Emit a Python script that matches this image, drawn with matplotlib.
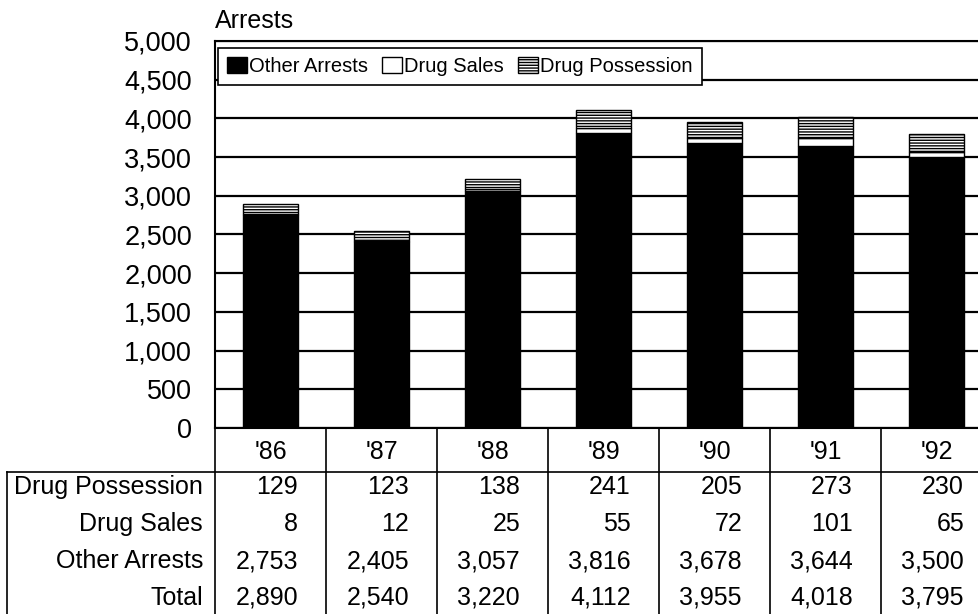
import numpy as np
import matplotlib.pyplot as plt

plt.rcParams['font.family'] = ['Liberation Sans', 'DejaVu Sans']
plt.rcParams['hatch.linewidth'] = 1.0

# Dados do gráfico
anos = ["'86", "'87", "'88", "'89", "'90", "'91", "'92"]
drug_possession = [129, 123, 138, 241, 205, 273, 230]
drug_sales = [8, 12, 25, 55, 72, 101, 65]
other_arrests = [2753, 2405, 3057, 3816, 3678, 3644, 3500]
total = [2890, 2540, 3220, 4112, 3955, 4018, 3795]
yticks = [0, 500, 1000, 1500, 2000, 2500, 3000, 3500, 4000, 4500, 5000]

W, H = 979, 614
fig = plt.figure(figsize=(W / 100, H / 100), dpi=100)

# Eixo principal (barras empilhadas)
ax = fig.add_axes([215 / W, (H - 428) / H, 777 / W, 387 / H])
x = np.arange(len(anos))
w = 0.49
ax.bar(x, other_arrests, width=w, color='black', edgecolor='black',
       linewidth=1, label='Other Arrests', zorder=3)
ax.bar(x, drug_sales, width=w, bottom=other_arrests, color='white',
       edgecolor='black', linewidth=1, label='Drug Sales', zorder=3)
base = np.array(other_arrests) + np.array(drug_sales)
ax.bar(x, drug_possession, width=w, bottom=base, color='white',
       edgecolor='black', hatch='------', linewidth=1,
       label='Drug Possession', zorder=3)

ax.set_xlim(-0.5, len(anos) - 0.5)
ax.set_ylim(0, 5000)
ax.set_yticks(yticks)
ax.set_yticklabels([f'{v:,}' for v in yticks], fontsize=19.5)
ax.set_xticks([])
ax.tick_params(axis='y', length=0, pad=16.5)
ax.yaxis.grid(True, color='black', linewidth=1.6, zorder=1)
ax.set_axisbelow(True)
for s in ax.spines.values():
    s.set_linewidth(1.5)

ax.text(0, 1.034, 'Arrests', transform=ax.transAxes, fontsize=18,
        ha='left', va='baseline')

leg = ax.legend(loc='upper left', bbox_to_anchor=(3 / 777, 1 - 7 / 387),
                borderaxespad=0, ncol=3, fontsize=14.5, frameon=True,
                fancybox=False, edgecolor='black', framealpha=1,
                handlelength=1.0, handleheight=0.8, handletextpad=0.1,
                columnspacing=0.7, borderpad=0.45)
leg.get_frame().set_linewidth(1.2)

# Tabela de dados abaixo do gráfico
tb = fig.add_axes([215 / W, 0, 777 / W, (H - 428) / H])
tb.set_xlim(-0.5, len(anos) - 0.5)
tb.set_ylim(H, 428)
tb.axis('off')

esq = -0.5 - 208 / 111
lw = 1.2
tb.plot([esq, len(anos)], [472, 472], color='black', lw=lw, clip_on=False)
tb.plot([esq, esq], [472, H + 5], color='black', lw=lw, clip_on=False)
for i in range(len(anos) + 1):
    tb.plot([i - 0.5, i - 0.5], [428, H + 5], color='black', lw=lw,
            clip_on=False)

for i, a in enumerate(anos):
    tb.text(i, 452, a, ha='center', va='center', fontsize=18)

linhas = [('Drug Possession', drug_possession), ('Drug Sales', drug_sales),
          ('Other Arrests', other_arrests), ('Total', total)]
ys = [487, 524, 561, 598]
for (nome, vals), yy in zip(linhas, ys):
    tb.text(-0.5 - 12 / 111, yy, nome, ha='right', va='center',
            fontsize=18, clip_on=False)
    for i, v in enumerate(vals):
        tb.text(i + 0.5 - 28 / 111, yy, f'{v:,}', ha='right', va='center',
                fontsize=18, clip_on=False)

plt.savefig('out.png', dpi=100)
